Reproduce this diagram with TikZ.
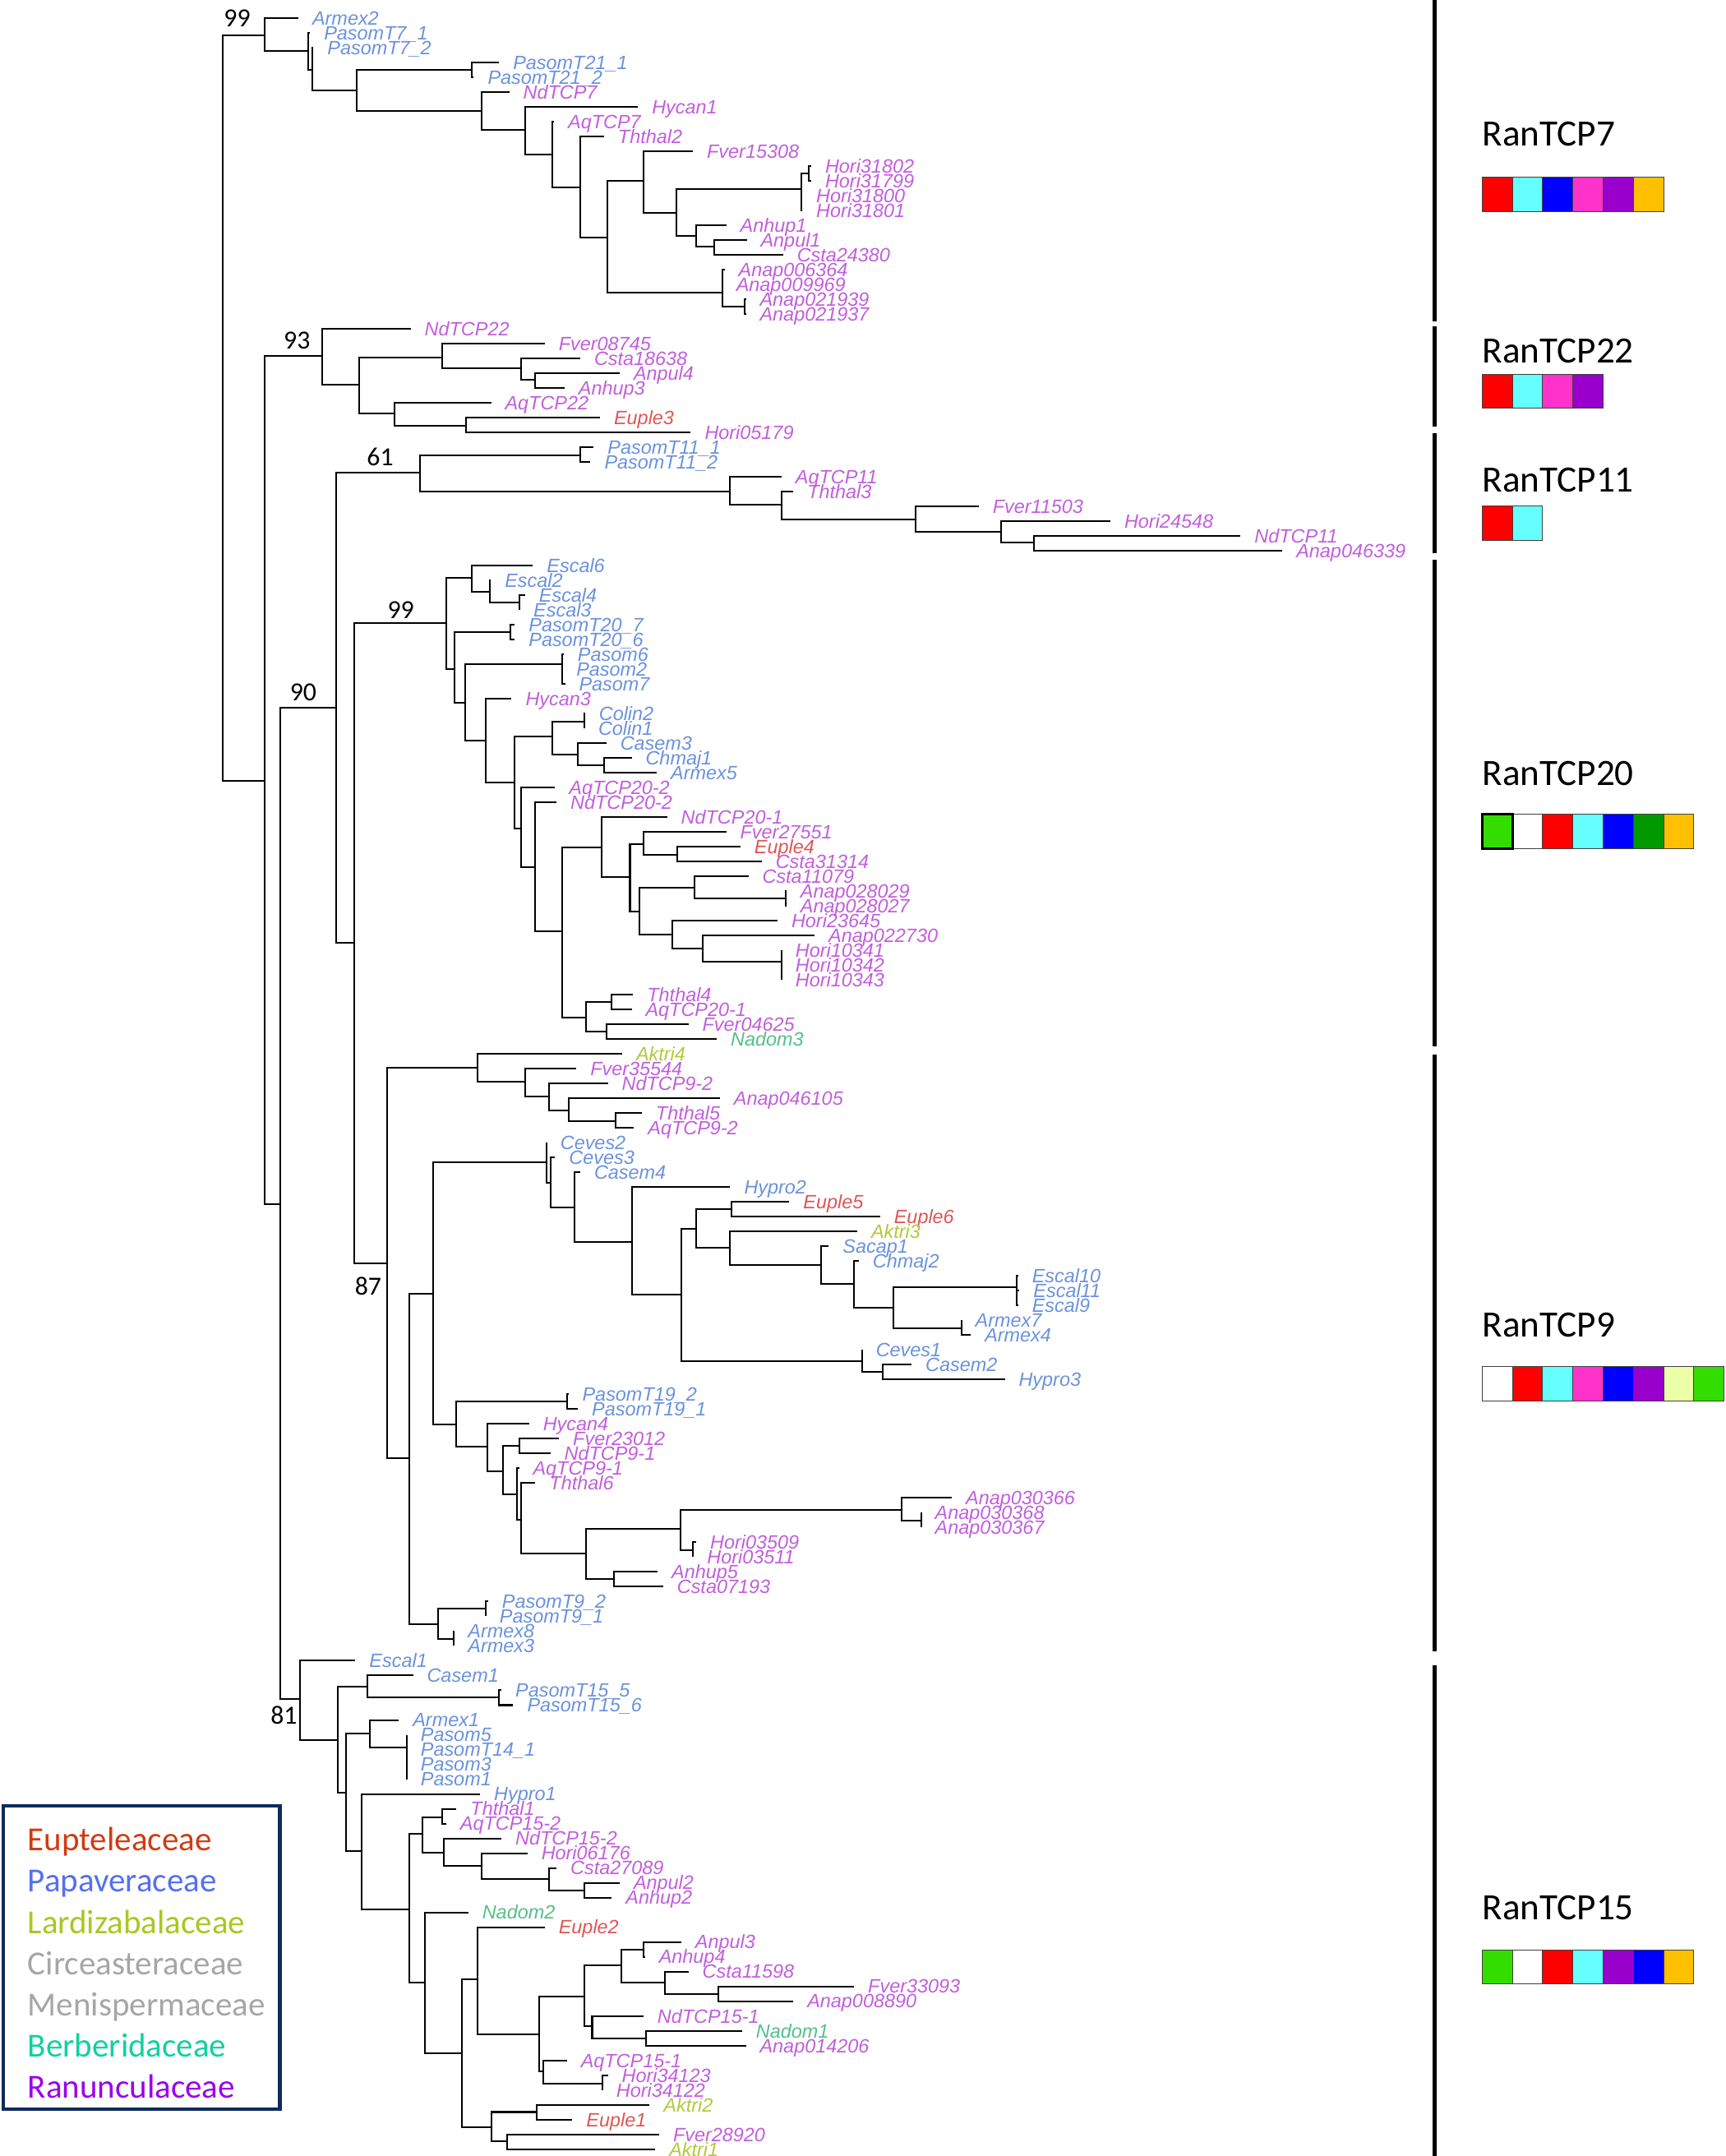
\documentclass[tikz,border=0pt]{standalone}
\usepackage{fontspec}
\setmainfont{Carlito}
\newfontfamily\leaffont{Liberation Sans}
\definecolor{pap}{HTML}{6A92DC}
\definecolor{ran}{HTML}{C25EDC}
\definecolor{eup}{HTML}{E05555}
\definecolor{lar}{HTML}{B4C83C}
\definecolor{ber}{HTML}{55BF8A}
\definecolor{leup}{HTML}{D23A10}
\definecolor{lpap}{HTML}{5470EE}
\definecolor{llar}{HTML}{A8C820}
\definecolor{lgry}{HTML}{A6A6A6}
\definecolor{lber}{HTML}{10D0A0}
\definecolor{lran}{HTML}{9A00F0}
\definecolor{navy}{HTML}{0F2A5C}
\definecolor{cred}{HTML}{FF0000}
\definecolor{ccyan}{HTML}{66FFFF}
\definecolor{cblue}{HTML}{0000FF}
\definecolor{cpink}{HTML}{FF33CC}
\definecolor{cpurple}{HTML}{9900CC}
\definecolor{corange}{HTML}{FFC000}
\definecolor{cgreen}{HTML}{33DD00}
\definecolor{cdkgreen}{HTML}{009900}
\definecolor{clime}{HTML}{EEFFAA}
\tikzset{
  branch/.style={line width=1.2pt},
  leaf/.style={anchor=west, inner xsep=10pt, inner ysep=0pt, text height=10pt, text depth=0pt,
    font=\leaffont\itshape\fontsize{14}{14}\selectfont, text=#1},
  boot/.style={inner sep=0pt, font=\fontsize{19}{19}\selectfont},
  group/.style={anchor=base west, inner sep=0pt, font=\fontsize{27}{27}\selectfont},
  famlabel/.style={anchor=base west, inner sep=0pt, font=\fontsize{24.5}{24.5}\selectfont, text=#1},
  cbox/.style={fill=#1, draw=black!75, line width=0.6pt},
}
\begin{document}
\begin{tikzpicture}[x=1pt, y=-1pt, line join=miter]
\useasboundingbox (0,0) rectangle (1255,1568);
\def\dy{10.764} \def\yo{2.236} % leaf rows
% leaves: row / tip x / colour / label
\foreach \row/\x/\col/\lab in {
1/217/pap/Armex2, 2/225.5/pap/PasomT7\_1, 3/228/pap/PasomT7\_2, 4/363/pap/PasomT21\_1,
5/344.6/pap/PasomT21\_2, 6/370.4/ran/NdTCP7, 7/464/ran/Hycan1, 8/403/ran/AqTCP7,
9/439.3/ran/Ththal2, 10/504/ran/Fver15308, 11/590/ran/Hori31802, 12/590/ran/Hori31799,
13/583.5/ran/Hori31800, 14/583.5/ran/Hori31801, 15/528.2/ran/Anhup1, 16/543.1/ran/Anpul1,
17/569.5/ran/Csta24380, 18/527/ran/Anap006364, 19/525.3/ran/Anap009969, 20/542.5/ran/Anap021939,
21/542.5/ran/Anap021937, 22/298.7/ran/NdTCP22, 23/396.2/ran/Fver08745, 24/422/ran/Csta18638,
25/450.7/ran/Anpul4, 26/410.6/ran/Anhup3, 27/357.2/ran/AqTCP22, 28/436.4/eup/Euple3,
29/502.4/ran/Hori05179, 30/431.8/pap/PasomT11\_1, 31/429.5/pap/PasomT11\_2, 32/568.4/ran/AqTCP11,
33/577/ran/Ththal3, 34/711.8/ran/Fver11503, 35/807.6/ran/Hori24548, 36/902.3/ran/NdTCP11,
37/932.7/ran/Anap046339, 38/387.6/pap/Escal6, 39/357/pap/Escal2, 40/381.9/pap/Escal4,
41/377.9/pap/Escal3, 42/374.4/pap/PasomT20\_7, 43/374.4/pap/PasomT20\_6, 44/410/pap/Pasom6,
45/409/pap/Pasom2, 46/411/pap/Pasom7, 47/372.1/ran/Hycan3, 48/425.5/pap/Colin2,
49/425/pap/Colin1, 50/441/pap/Casem3, 51/459.4/pap/Chmaj1, 52/477.7/pap/Armex5,
53/403.7/ran/AqTCP20-2, 54/404.8/ran/NdTCP20-2, 55/485.2/ran/NdTCP20-1, 56/528.2/ran/Fver27551,
57/538.5/eup/Euple4, 58/554/ran/Csta31314, 59/544.3/ran/Csta11079, 60/572/ran/Anap028029,
61/572/ran/Anap028027, 62/565.5/ran/Hori23645, 63/592.5/ran/Anap022730, 64/568.4/ran/Hori10341,
65/568.4/ran/Hori10342, 66/568.4/ran/Hori10343, 67/460.5/ran/Ththal4, 68/459.4/ran/AqTCP20-1,
69/500.7/ran/Fver04625, 70/521.3/ber/Nadom3, 71/452.5/lar/Aktri4, 72/419.2/ran/Fver35544,
73/442.1/ran/NdTCP9-2, 74/523.6/ran/Anap046105, 75/466.8/ran/Ththal5, 76/461.1/ran/AqTCP9-2,
77/397.4/pap/Ceves2, 78/403.7/pap/Ceves3, 79/422/pap/Casem4, 80/531.1/pap/Hypro2,
81/574.1/eup/Euple5, 82/640.1/eup/Euple6, 83/623.5/lar/Aktri3, 84/602.8/pap/Sacap1,
85/624.6/pap/Chmaj2, 86/740.5/pap/Escal10, 87/741.5/pap/Escal11, 88/740.5/pap/Escal9,
89/699.2/pap/Armex7, 90/706.1/pap/Armex4, 91/626.9/pap/Ceves1, 92/663/pap/Casem2,
93/730.8/pap/Hypro3, 94/413.4/pap/PasomT19\_2, 95/420.3/pap/PasomT19\_1, 96/384.8/ran/Hycan4,
97/406.6/ran/Fver23012, 98/400.3/ran/NdTCP9-1, 99/377.5/ran/AqTCP9-1, 100/389.4/ran/Ththal6,
101/692.3/ran/Anap030366, 102/669.9/ran/Anap030368, 103/669.9/ran/Anap030367, 104/506.4/ran/Hori03509,
105/504.1/ran/Hori03511, 106/478.3/ran/Anhup5, 107/482.3/ran/Csta07193, 108/355/pap/PasomT9\_2,
109/353.2/pap/PasomT9\_1, 110/330.2/pap/Armex8, 111/330.2/pap/Armex3, 112/258.5/pap/Escal1,
113/300.4/pap/Casem1, 114/364.7/pap/PasomT15\_5, 115/373.3/pap/PasomT15\_6, 116/290.1/pap/Armex1,
117/295.8/pap/Pasom5, 118/295.8/pap/PasomT14\_1, 119/295.8/pap/Pasom3, 120/295.8/pap/Pasom1,
121/349.2/pap/Hypro1, 122/332/ran/Ththal1, 123/324.5/ran/AqTCP15-2, 124/364.7/ran/NdTCP15-2,
125/383.6/ran/Hori06176, 126/404.8/ran/Csta27089, 127/450.7/ran/Anpul2, 128/445/ran/Anhup2,
129/340.6/ber/Nadom2, 130/396.2/eup/Euple2, 131/495.5/ran/Anpul3, 132/469.1/ran/Anhup4,
133/500.7/ran/Csta11598, 134/621.2/ran/Fver33093, 135/577/ran/Anap008890, 136/468/ran/NdTCP15-1,
137/539.7/ber/Nadom1, 138/542.5/ran/Anap014206, 139/412.3/ran/AqTCP15-1, 140/442.1/ran/Hori34123,
141/438.1/ran/Hori34122, 142/472.5/lar/Aktri2, 143/416.3/eup/Euple1, 144/479.4/ran/Fver28920,
145/476.6/lar/Aktri1}
  \node[leaf=\col] (r\row) at (\x,{\yo+\dy*\row}) {\lab};
% internal nodes
\foreach \nm/\x/\y in {
R/162/296.8, A/192.5/25.5, A2/224.1/37, A3/227/50.8, A4/259.7/65.8, A5/343.4/50.8, A6/350.3/80.7,
A7/381.9/94.7, A8/402/112.6, A9/422/136.5, A10/442/172.8, A11/468/131.5, A12/492/154.8,
H1/582.7/137.5, H2/588.5/126, A13/506.4/171.4, A13b/519.6/179.3, A14/525.3/212.6, A14a/525.3/201.4,
A15/541.4/223.2, B/192.5/568, C/234.4/259.1, C2/261.4/279.6, C3/321.6/260, C4/379/268.1,
C5/389.4/276, C6/287.2/300.9, C7/338.9/309.5, D/204/875.9, E/244.2/514.8, G/305.6/343.8,
G1/422.1/330.9, G2/531.1/357.4, G3/568.4/367.3, G4/665.9/377.7, G5/727.9/386.7, G6/752/394.6,
E2/257.4/685.6, I/324.5/453, I1/343.4/420.5, I1b/356.1/430.5, I1c/377.9/438, I2/330.8/486.3,
I3/371/459.4, I4/338.3/511, I5/408.9/483.3, I6/353.2/538.6, I7/374.4/569, I8/402/535.8,
I8a/425/525.1, I9/420.3/548.7, I9b/439.3/556.7, I10/379/602.5, I11/389.4/630.4, I12/408.9/677.2,
I13/437.5/616.3, I14/458.2/637.8, I15/468/613.9, I15b/492.6/621.9, I16/465.1/662.7,
I17/505.3/645.8, I17b/571.2/653.2, I18/489.2/679.6, I19/511/689.6, I19b/568.4/699.6,
I20/426.1/740, I21/445/728.5, I22/441/750.4, J/281.5/918.7, K/347.5/776.7, K2/381.9/786.9,
K3/399.1/797.2, K4/413.4/807.7, K5/447.9/815.1, L/297.5/1060.3, M/314.8/940.7, M1/397.4/845,
M1b/400.3/860, M1c/418/878.3, M2/459.4/903.4, M3/495.5/941.7, M4/506.4/893.4, M5/532.2/879.3,
M6/531.1/907.4, M7/597.1/920.1, M8/621.2/933.8, M8b/649.9/951.1, M8c/739.4/936.1,
M8d/699.2/966.2, M9/626.9/990.2, M9b/641.8/997.5, P/332/1035.8, P1/412.3/1019, P2/354.3/1052.3,
P3/365.8/1069.8, P4/377.9/1051.3, P5/376.2/1086.8, P5b/379/1105.1, P7/426.1/1130, P8/495/1112.1,
P8a/655.6/1098.1, P8c/669.9/1105.7, P8b/504.1/1127.6, P9/446.7/1148.4, N/318.8/1181.5,
N1/353.2/1169.9, N2/330.2/1191.9, F/218.4/1235.7, F2/245.9/1265.6, F3/267.1/1226.7,
F3b/363/1234.7, F5/251.6/1303.5, F6/268.8/1260.6, F6b/295.8/1271, F7/263.1/1346.3,
F9/297.5/1388.8, F10/307.3/1333.7, F10a/321.6/1321.4, F11/322.8/1347.3, F12/350.3/1356.7,
F12b/399.1/1366.8, F12c/425/1374.8, F13/309/1442, F14/336/1493.3, F15/347.5/1439.6,
F16/392.2/1479.4, F17/424.9/1452.3, F17a/451.9/1429.4, F17b/468/1418, F17c/483.5/1442,
F17d/522.5/1450.3, F18/430.7/1473.8, F18b/469.7/1482.4, F19/395.1/1506.3, F19b/438.1/1515.1,
F20/357.2/1547, F21/390.5/1536, F22/368.7/1557.1}
  \coordinate (\nm) at (\x,\y);
% branches
\foreach \pa/\ch in {
R/A, R/B, A/r1, A/A2, A2/r2, A2/A3, A3/r3, A3/A4, A4/A5, A4/A6, A5/r4, A5/r5, A6/r6, A6/A7,
A7/r7, A7/A8, A8/r8, A8/A9, A9/r9, A9/A10, A10/A11, A10/A14, A11/r10, A11/A12, A12/H1, A12/A13,
H1/H2, H1/r13, H1/r14, H2/r11, H2/r12, A13/r15, A13/A13b, A13b/r16, A13b/r17, A14/A14a, A14/A15,
A14a/r18, A14a/r19, A15/r20, A15/r21,
B/C, B/D, C/r22, C/C2, C2/C3, C2/C6, C3/r23, C3/C4, C4/r24, C4/C5, C5/r25, C5/r26, C6/r27, C6/C7,
C7/r28, C7/r29,
D/E, D/F, E/G, E/E2, G/G1, G/G2, G1/r30, G1/r31, G2/r32, G2/G3, G3/r33, G3/G4, G4/r34, G4/G5,
G5/r35, G5/G6, G6/r36, G6/r37,
E2/I, E2/J, I/I1, I/I2, I1/r38, I1/I1b, I1b/r39, I1b/I1c, I1c/r40, I1c/r41, I2/I3, I2/I4,
I3/r42, I3/r43, I4/I5, I4/I6, I5/r44, I5/r45, I5/r46, I6/r47, I6/I7, I7/I8, I7/I10, I8/I8a,
I8/I9, I8a/r48, I8a/r49, I9/r50, I9/I9b, I9b/r51, I9b/r52, I10/r53, I10/I11, I11/r54, I11/I12,
I12/I13, I12/I20, I13/r55, I13/I14, I14/I15, I14/I16, I15/r56, I15/I15b, I15b/r57, I15b/r58,
I16/I17, I16/I18, I17/r59, I17/I17b, I17b/r60, I17b/r61, I18/r62, I18/I19, I19/r63, I19/I19b,
I19b/r64, I19b/r65, I19b/r66, I20/I21, I20/I22, I21/r67, I21/r68, I22/r69, I22/r70,
J/K, J/L, K/r71, K/K2, K2/r72, K2/K3, K3/r73, K3/K4, K4/r74, K4/K5, K5/r75, K5/r76,
L/M, L/N, M/M1, M/P, M1/r77, M1/M1b, M1b/r78, M1b/M1c, M1c/r79, M1c/M2, M2/r80, M2/M3,
M3/M4, M3/M9, M4/M5, M4/M6, M5/r81, M5/r82, M6/r83, M6/M7, M7/r84, M7/M8, M8/r85, M8/M8b,
M8b/M8c, M8b/M8d, M8c/r86, M8c/r87, M8c/r88, M8d/r89, M8d/r90, M9/r91, M9/M9b, M9b/r92, M9b/r93,
P/P1, P/P2, P1/r94, P1/r95, P2/r96, P2/P3, P3/P4, P3/P5, P4/r97, P4/r98, P5/r99, P5/P5b,
P5b/r100, P5b/P7, P7/P8, P7/P9, P8/P8a, P8/P8b, P8a/r101, P8a/P8c, P8c/r102, P8c/r103,
P8b/r104, P8b/r105, P9/r106, P9/r107, N/N1, N/N2, N1/r108, N1/r109, N2/r110, N2/r111,
F/r112, F/F2, F2/F3, F2/F5, F3/r113, F3/F3b, F3b/r114, F3b/r115, F5/F6, F5/F7, F6/r116, F6/F6b,
F6b/r117, F6b/r118, F6b/r119, F6b/r120, F7/r121, F7/F9, F9/F10, F9/F13, F10/F10a, F10/F11,
F10a/r122, F10a/r123, F11/r124, F11/F12, F12/r125, F12/F12b, F12b/r126, F12b/F12c, F12c/r127,
F12c/r128, F13/r129, F13/F14, F14/F15, F14/F20, F15/r130, F15/F16, F16/F17, F16/F19,
F17/F17a, F17/F18, F17a/F17b, F17a/F17c, F17b/r131, F17b/r132, F17c/r133, F17c/F17d,
F17d/r134, F17d/r135, F18/r136, F18/F18b, F18b/r137, F18b/r138, F19/r139, F19/F19b,
F19b/r140, F19b/r141, F20/F21, F20/F22, F21/r142, F21/r143, F22/r144, F22/r145}
  \draw[branch] (\pa) |- (\ch);
% bootstrap values
\node[boot] (s99a) at (172.5,13.5) {99};
\node[boot] (s93) at (216,247.5) {93};
\node[boot] (s61) at (276.5,332.5) {61};
\node[boot] (s99b) at (291.5,443.6) {99};
\node[boot] (s90) at (220.5,503.5) {90};
\node[boot] (s87) at (267.8,935.4) {87};
\node[boot] (s81) at (206.5,1247.5) {81};
% clade bars
\foreach \a/\b in {0/233.8, 237.4/310.3, 315.3/402.6, 407/761, 767/1200.8, 1211.4/1568}
  \draw[line width=2.6pt] (1043.5,\a) -- (1043.5,\b);
% clade names and boxes
\node[group] (g7) at (1078,106) {RanTCP7};
\node[group] (g22) at (1078,264) {RanTCP22};
\node[group] (g11) at (1078,358) {RanTCP11};
\node[group] (g20) at (1078,571) {RanTCP20};
\node[group] (g9) at (1078,972) {RanTCP9};
\node[group] (g15) at (1078,1396) {RanTCP15};
\foreach \col [count=\i from 0] in {cred,ccyan,cblue,cpink,cpurple,corange}
  \draw[cbox=\col] (1078+22*\i,129) rectangle ++(22,25);
\foreach \col [count=\i from 0] in {cred,ccyan,cpink,cpurple}
  \draw[cbox=\col] (1078+22*\i,272) rectangle ++(22,25);
\foreach \col [count=\i from 0] in {cred,ccyan}
  \draw[cbox=\col] (1078+22*\i,368) rectangle ++(22,25);
\foreach \col [count=\i from 0] in {cgreen,white,cred,ccyan,cblue,cdkgreen,corange}
  \draw[cbox=\col] (1078+22*\i,592) rectangle ++(22,25);
\draw[line width=1.8pt] (1078,592) rectangle ++(22,25);
\foreach \col [count=\i from 0] in {white,cred,ccyan,cpink,cblue,cpurple,clime,cgreen}
  \draw[cbox=\col] (1078+22*\i,994) rectangle ++(22,25);
\foreach \col [count=\i from 0] in {cgreen,white,cred,ccyan,cpurple,cblue,corange}
  \draw[cbox=\col] (1078+22*\i,1418) rectangle ++(22,25);
% legend
\draw[line width=2.5pt, draw=navy] (2.5,1313.5) rectangle (203.5,1534);
\foreach \lab/\col [count=\i from 0] in {Eupteleaceae/leup, Papaveraceae/lpap,
  Lardizabalaceae/llar, Circeasteraceae/lgry, Menispermaceae/lgry, Berberidaceae/lber,
  Ranunculaceae/lran}
  \node[famlabel=\col] (f\i) at (20,1346+30*\i) {\lab};
\end{tikzpicture}
\end{document}
